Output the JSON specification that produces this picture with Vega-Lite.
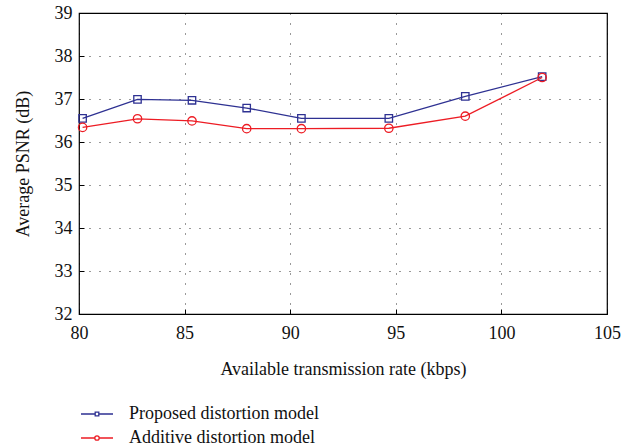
{
  "$schema": "https://vega.github.io/schema/vega-lite/v6.json",
  "width": 528,
  "height": 301,
  "autosize": {"type": "none"},
  "padding": {"left": 79, "top": 13, "right": 30, "bottom": 134},
  "background": "white",
  "config": {
    "font": "Liberation Serif",
    "text": {"font": "Liberation Serif"},
    "legend": {"labelFont": "Liberation Serif", "titleFont": "Liberation Serif"},
    "view": {"stroke": "black", "strokeWidth": 1.2},
    "axis": {
      "labelFont": "Liberation Serif",
      "titleFont": "Liberation Serif",
      "labelFlush": false,
      "domain": false,
      "gridColor": "black",
      "gridDash": [1, 9],
      "gridOpacity": 0.8,
      "gridWidth": 1,
      "tickColor": "black",
      "tickSize": -5,
      "labelFontSize": 18,
      "labelColor": "#111",
      "titleFontSize": 18,
      "titleFontWeight": "normal",
      "titleColor": "#111"
    }
  },
  "data": {
    "values": [
      {"rate": 80.17, "psnr": 36.55, "model": "Proposed distortion model"},
      {"rate": 82.77, "psnr": 36.99, "model": "Proposed distortion model"},
      {"rate": 85.35, "psnr": 36.97, "model": "Proposed distortion model"},
      {"rate": 87.94, "psnr": 36.79, "model": "Proposed distortion model"},
      {"rate": 90.53, "psnr": 36.55, "model": "Proposed distortion model"},
      {"rate": 94.67, "psnr": 36.55, "model": "Proposed distortion model"},
      {"rate": 98.29, "psnr": 37.06, "model": "Proposed distortion model"},
      {"rate": 101.93, "psnr": 37.52, "model": "Proposed distortion model"},
      {"rate": 80.17, "psnr": 36.34, "model": "Additive distortion model"},
      {"rate": 82.77, "psnr": 36.54, "model": "Additive distortion model"},
      {"rate": 85.35, "psnr": 36.49, "model": "Additive distortion model"},
      {"rate": 87.94, "psnr": 36.31, "model": "Additive distortion model"},
      {"rate": 90.53, "psnr": 36.31, "model": "Additive distortion model"},
      {"rate": 94.67, "psnr": 36.32, "model": "Additive distortion model"},
      {"rate": 98.29, "psnr": 36.60, "model": "Additive distortion model"},
      {"rate": 101.93, "psnr": 37.50, "model": "Additive distortion model"}
    ]
  },
  "encoding": {
    "x": {
      "field": "rate", "type": "quantitative",
      "scale": {"domain": [80, 105], "nice": false, "zero": false},
      "axis": {"values": [80, 85, 90, 95, 100, 105], "title": "Available transmission rate (kbps)", "labelFont": "Liberation Serif", "titleFont": "Liberation Serif", "labelFlush": false, "labelPadding": 15, "titlePadding": 18}
    },
    "y": {
      "field": "psnr", "type": "quantitative",
      "scale": {"domain": [32, 39], "nice": false, "zero": false},
      "axis": {"values": [32, 33, 34, 35, 36, 37, 38, 39], "title": "Average PSNR (dB)", "labelFont": "Liberation Serif", "titleFont": "Liberation Serif", "labelFlush": false, "labelPadding": 12, "titlePadding": 22}
    }
  },
  "layer": [
    {
      "mark": {"type": "line", "strokeWidth": 1.3},
      "encoding": {
        "color": {
          "field": "model", "type": "nominal",
          "scale": {"domain": ["Proposed distortion model", "Additive distortion model"], "range": ["#2e3192", "#ed1c24"]},
          "legend": {
            "title": null,
            "orient": "none",
            "legendX": 7,
            "legendY": 390,
            "direction": "vertical",
            "symbolSize": 400,
            "symbolStrokeWidth": 1.3,
            "labelFontSize": 18,
            "labelFont": "Liberation Serif",
            "labelColor": "#111",
            "labelLimit": 400,
            "labelOffset": 21,
            "rowPadding": 4,
            "padding": 0,
            "encode": {
              "symbols": {
                "update": {
                  "shape": {"signal": "datum.value === 'Proposed distortion model' ? 'M-1.6,0H-0.18M0.18,0H1.6M-0.18,-0.18H0.18V0.18H-0.18Z' : 'M-1.6,0H-0.22M0.22,0H1.6M-0.22,0A0.22,0.22 0 1,0 0.22,0A0.22,0.22 0 1,0 -0.22,0'"},
                  "fill": {"value": "transparent"}
                }
              }
            }
          }
        }
      }
    },
    {
      "transform": [{"filter": "datum.model === 'Proposed distortion model'"}],
      "mark": {"type": "point", "shape": "square", "filled": false, "strokeWidth": 1.3, "opacity": 1, "size": 55, "color": "#2e3192"}
    },
    {
      "transform": [{"filter": "datum.model === 'Additive distortion model'"}],
      "mark": {"type": "point", "shape": "circle", "filled": false, "strokeWidth": 1.3, "opacity": 1, "size": 70, "color": "#ed1c24"}
    }
  ]
}
